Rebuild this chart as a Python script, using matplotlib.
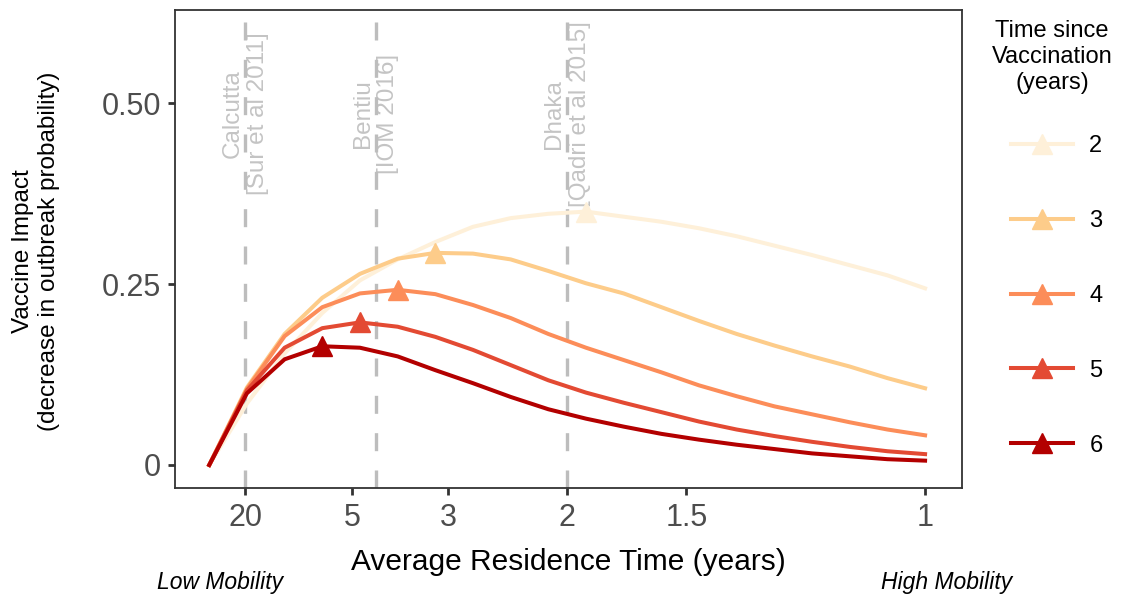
import matplotlib
matplotlib.use("Agg")
import matplotlib.pyplot as plt
from matplotlib.lines import Line2D

plt.rcParams["font.family"] = ["Liberation Sans", "DejaVu Sans"]

# mobility rate = 1 / average residence time (per year)
mobility = [0.0, 0.0526, 0.1053, 0.1579, 0.2105, 0.2632, 0.3158, 0.3684, 0.4211, 0.4737,
            0.5263, 0.5789, 0.6316, 0.6842, 0.7368, 0.7895, 0.8421, 0.8947, 0.9474, 1.0]

years_since_vacc = ["2", "3", "4", "5", "6"]
impact_2 = [0, 0.085, 0.154, 0.210, 0.255, 0.284, 0.308, 0.329, 0.341, 0.347,
            0.350, 0.343, 0.336, 0.327, 0.316, 0.303, 0.290, 0.276, 0.262, 0.244]
impact_3 = [0, 0.107, 0.181, 0.231, 0.264, 0.285, 0.293, 0.292, 0.284, 0.268,
            0.251, 0.237, 0.218, 0.199, 0.181, 0.165, 0.150, 0.136, 0.120, 0.106]
impact_4 = [0, 0.105, 0.178, 0.218, 0.237, 0.242, 0.236, 0.221, 0.203, 0.181,
            0.162, 0.145, 0.128, 0.110, 0.095, 0.081, 0.070, 0.059, 0.049, 0.041]
impact_5 = [0, 0.103, 0.162, 0.189, 0.197, 0.191, 0.177, 0.159, 0.138, 0.117,
            0.100, 0.086, 0.073, 0.060, 0.049, 0.040, 0.032, 0.025, 0.019, 0.015]
impact_6 = [0, 0.099, 0.146, 0.164, 0.162, 0.150, 0.131, 0.113, 0.094, 0.077,
            0.064, 0.053, 0.043, 0.035, 0.028, 0.022, 0.016, 0.012, 0.008, 0.006]
impacts = [impact_2, impact_3, impact_4, impact_5, impact_6]
colors = ["#fef0d9", "#fdcc8a", "#fc8d59", "#e34a33", "#b30000"]

# study sites (average residence time in years)
site_names = ["Calcutta\n[Sur et al 2011]", "Bentiu\n[IOM 2016]", "Dhaka\n[Qadri et al 2015]"]
site_residence = [20, 4.3, 2]

xtick_years = [20, 5, 3, 2, 1.5, 1]
xtick_labels = ["20", "5", "3", "2", "1.5", "1"]
ytick_vals = [0, 0.25, 0.5]
ytick_labels = ["0", "0.25", "0.50"]

fig = plt.figure(figsize=(11.3, 5.96), dpi=100)
ax = fig.add_axes([0.1549, 0.1812, 0.6965, 0.802])

for name, t in zip(site_names, site_residence):
    ax.axvline(1 / t, color="#bdbdbd", lw=2.4, dashes=(5.4, 5.8), zorder=2)
    ax.text(1 / t, 0.485, name, rotation=90, ha="center", va="center",
            multialignment="center", fontsize=17.5, color="#c4c4c4", zorder=1)

for vals, col in zip(impacts, colors):
    ax.plot(mobility, vals, color=col, lw=2.9, solid_joinstyle="round", zorder=3)
    k = max(range(len(vals)), key=lambda j: vals[j])
    ax.plot(mobility[k], vals[k], marker="^", ms=14, color=col, mec=col, zorder=4)

ax.set_xlim(-0.0478, 1.0517)
ax.set_ylim(-0.0318, 0.6285)
ax.set_xticks([1 / t for t in xtick_years])
ax.set_xticklabels(xtick_labels)
ax.set_yticks(ytick_vals)
ax.set_yticklabels(ytick_labels)
ax.tick_params(axis="both", length=5, width=2, color="#333333",
               labelsize=22, labelcolor="#4d4d4d")
ax.tick_params(axis="x", pad=6)
ax.tick_params(axis="y", pad=5)
for sp in ax.spines.values():
    sp.set_color("#333333")
    sp.set_linewidth(1.3)

ax.set_xlabel("Average Residence Time (years)", fontsize=21.5)
ax.xaxis.set_label_coords(0.5, -0.125)
fig.text(36 / 1130, 1 - 251 / 596, "Vaccine Impact\n(decrease in outbreak probability)",
         rotation=90, ha="center", va="center", multialignment="center", fontsize=17.5)

fig.text(220 / 1130, 1 - 583 / 596, "Low Mobility", style="italic",
         ha="center", va="center", fontsize=16.5)
fig.text(947 / 1130, 1 - 583 / 596, "High Mobility", style="italic",
         ha="center", va="center", fontsize=16.5)

# legend
fig.text(1052 / 1130, 1 - 57 / 596, "Time since\nVaccination\n(years)",
         ha="center", va="center", multialignment="center", fontsize=17, linespacing=1.22)
handles = [Line2D([], [], color=c, lw=2.9, marker="^", ms=14) for c in colors]
fig.legend(handles, years_since_vacc, loc="upper center",
           bbox_to_anchor=(1057 / 1130, 1 - 135 / 596), frameon=False,
           fontsize=17, handlelength=2.6, handletextpad=0.7, labelspacing=2.24,
           borderaxespad=0, borderpad=0)

fig.savefig("out.png", dpi=100)
